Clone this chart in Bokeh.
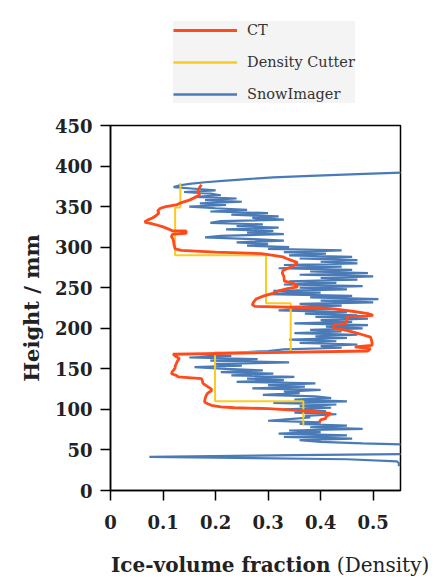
from bokeh.plotting import figure
from bokeh.models import Range1d, FixedTicker, Legend, LegendItem, Div
from bokeh.layouts import column
from bokeh.embed import file_html
from bokeh.resources import INLINE

# ---------------- data ----------------
ct_height = [377, 372, 368, 365, 362, 358, 355, 352, 350, 348, 345, 342, 339, 336, 334,
             331, 329, 327, 325, 322, 320, 320, 317, 316, 313, 310, 307, 303, 298, 296,
             294, 292, 290, 288, 286, 284, 281, 278, 276, 274, 271, 268, 264, 258, 256,
             254, 251, 249, 246, 243, 240, 236, 232, 229, 227, 225, 224, 221, 218, 216,
             214, 210, 206, 204, 200, 198, 195, 192, 189, 185, 181, 179, 177, 175, 172,
             170, 168, 165, 163, 160, 156, 153, 151, 147, 144, 142, 140, 138, 135, 132,
             128, 125, 123, 120, 117, 113, 109, 107, 105, 103, 102, 101, 99, 98, 97,
             95, 93, 91, 89, 87, 84]
ct_frac = [0.173, 0.168, 0.166, 0.170, 0.163, 0.150, 0.135, 0.125, 0.105, 0.095, 0.090, 0.092, 0.087, 0.080, 0.072,
           0.065, 0.078, 0.090, 0.100, 0.112, 0.118, 0.144, 0.144, 0.118, 0.116, 0.119, 0.120, 0.121, 0.123, 0.135,
           0.200, 0.287, 0.310, 0.328, 0.335, 0.343, 0.356, 0.350, 0.347, 0.337, 0.328, 0.327, 0.330, 0.331, 0.345,
           0.353, 0.356, 0.337, 0.320, 0.309, 0.292, 0.277, 0.272, 0.270, 0.275, 0.400, 0.425, 0.460, 0.490, 0.500,
           0.451, 0.450, 0.448, 0.425, 0.425, 0.445, 0.464, 0.480, 0.495, 0.497, 0.498, 0.498, 0.465, 0.495, 0.490,
           0.300, 0.119, 0.125, 0.131, 0.128, 0.125, 0.123, 0.123, 0.118, 0.116, 0.125, 0.129, 0.173, 0.175, 0.176,
           0.185, 0.192, 0.192, 0.185, 0.182, 0.180, 0.179, 0.185, 0.192, 0.210, 0.236, 0.300, 0.347, 0.370, 0.394,
           0.419, 0.415, 0.410, 0.410, 0.400, 0.397]

dc_top = [379, 349, 290, 231, 170.5, 110]
dc_bottom = [349, 290, 231, 170.5, 110, 80]
dc_frac = [0.133, 0.123, 0.296, 0.343, 0.199, 0.367]

snow_height = [393, 390, 388, 386, 384, 382, 380, 378, 376, 374, 372, 370, 368, 366, 364,
               362, 360, 358, 356, 354, 352, 350, 348, 346, 344, 342, 340, 338, 336, 334,
               332, 330, 328, 326, 324, 322, 320, 318, 316, 314, 312, 310, 308, 306, 304,
               302, 300, 298, 296, 294, 292, 290, 288, 286, 284, 282, 280, 278, 276, 274,
               272, 270, 268, 266, 264, 262, 260, 258, 256, 254, 252, 250, 248, 246, 244,
               242, 240, 238, 236, 234, 232, 230, 228, 226, 224, 222, 220, 218, 216, 214,
               212, 210, 208, 206, 204, 202, 200, 198, 196, 194, 192, 190, 188, 186, 184,
               182, 180, 178, 176, 174, 172, 170, 168, 166, 164, 162, 160, 158, 156, 154,
               152, 150, 148, 146, 144, 142, 140, 138, 136, 134, 132, 130, 128, 126, 124,
               122, 120, 118, 116, 114, 112, 110, 108, 106, 104, 102, 100, 98, 96, 94,
               92, 90, 88, 86, 84, 82, 80, 78, 76, 74, 72, 70, 68, 66, 64,
               62, 60, 58, 56, 52, 48, 45, 43.5, 41.5, 40.5, 38.5, 36, 33, 30]
snow_frac = [0.60, 0.47, 0.38, 0.31, 0.26, 0.22, 0.18, 0.15, 0.13, 0.12, 0.16, 0.20, 0.14, 0.19, 0.21,
             0.16, 0.24, 0.18, 0.25, 0.17, 0.22, 0.15, 0.20, 0.26, 0.19, 0.30, 0.23, 0.32, 0.27, 0.33,
             0.21, 0.19, 0.29, 0.24, 0.32, 0.22, 0.31, 0.26, 0.33, 0.21, 0.18, 0.27, 0.33, 0.24, 0.30,
             0.26, 0.34, 0.30, 0.44, 0.33, 0.41, 0.34, 0.46, 0.36, 0.47, 0.40, 0.47, 0.33, 0.44, 0.32,
             0.46, 0.38, 0.49, 0.36, 0.50, 0.40, 0.47, 0.34, 0.43, 0.33, 0.48, 0.36, 0.45, 0.31, 0.40,
             0.30, 0.46, 0.38, 0.51, 0.40, 0.50, 0.36, 0.44, 0.33, 0.42, 0.32, 0.45, 0.37, 0.47, 0.39,
             0.49, 0.40, 0.46, 0.35, 0.49, 0.41, 0.48, 0.38, 0.44, 0.35, 0.47, 0.39, 0.45, 0.34, 0.43,
             0.36, 0.47, 0.40, 0.44, 0.33, 0.30, 0.24, 0.17, 0.23, 0.15, 0.28, 0.19, 0.34, 0.20, 0.25,
             0.16, 0.22, 0.29, 0.21, 0.31, 0.23, 0.35, 0.26, 0.33, 0.24, 0.39, 0.30, 0.37, 0.27, 0.40,
             0.33, 0.36, 0.29, 0.39, 0.42, 0.35, 0.45, 0.31, 0.43, 0.36, 0.42, 0.33, 0.41, 0.35, 0.43,
             0.37, 0.38, 0.34, 0.30, 0.40, 0.36, 0.45, 0.38, 0.48, 0.34, 0.40, 0.32, 0.45, 0.33, 0.46,
             0.36, 0.40, 0.48, 0.60, 0.62, 0.60, 0.58, 0.35, 0.074, 0.20, 0.45, 0.545, 0.55, 0.548]

x_ticks = [0, 0.1, 0.2, 0.3, 0.4, 0.5]
x_tick_labels = ["0", "0.1", "0.2", "0.3", "0.4", "0.5"]
y_ticks = [0, 50, 100, 150, 200, 250, 300, 350, 400, 450]

series_names = ["CT", "Density Cutter", "SnowImager"]
series_colors = ["#ff4a1c", "#f9cc23", "#4a7bb7"]
series_widths = [2.8, 2.0, 2.2]
x_label_bold = "Ice-volume fraction"
x_label_normal = "(Density)"
y_label = "Height / mm"

SERIF = "DejaVu Serif"
W = 444

# ---------------- legend strip (top) ----------------
leg_fig = figure(width=W, height=116, output_backend="svg", toolbar_location=None,
                 x_axis_type=None, y_axis_type=None, x_range=Range1d(0, 1), y_range=Range1d(0, 1),
                 min_border_left=0, min_border_right=0, min_border_top=0, min_border_bottom=0)
leg_fig.outline_line_color = None
leg_fig.background_fill_color = "white"
leg_fig.border_fill_color = "white"
# one hidden (NaN) point each: these renderers only carry the legend styling
leg_renderers = [leg_fig.line([float("nan")], [float("nan")], line_color=c, line_width=w + 0.3)
                 for c, w in zip(series_colors, series_widths)]
legend = Legend(items=[LegendItem(label=n, renderers=[r]) for n, r in zip(series_names, leg_renderers)],
                location=(63, 13))
legend.background_fill_color = "#f4f4f4"
legend.background_fill_alpha = 1
legend.border_line_color = None
legend.label_text_font = SERIF
legend.label_text_font_size = "14.5px"
legend.label_text_color = "#333333"
legend.glyph_width = 64
legend.glyph_height = 18
legend.label_height = 18
legend.spacing = 14
legend.padding = 14
legend.margin = 0
legend.label_standoff = 10
leg_fig.add_layout(legend, "center")

# ---------------- main plot ----------------
p = figure(width=W, height=426, output_backend="svg", toolbar_location=None,
           x_range=Range1d(0, 0.552), y_range=Range1d(0, 450),
           min_border_left=110, min_border_right=44, min_border_top=9, min_border_bottom=52)
p.xgrid.visible = False
p.ygrid.visible = False
p.outline_line_color = "black"
p.outline_line_width = 1.5
p.background_fill_color = "white"
p.border_fill_color = "white"

# density cutter step path built from layers
dc_x, dc_y = [], []
for t, b, v in zip(dc_top, dc_bottom, dc_frac):
    dc_x += [v, v]
    dc_y += [t, b]

p.line(snow_frac, snow_height, line_color=series_colors[2], line_width=series_widths[2])
p.line(dc_x, dc_y, line_color=series_colors[1], line_width=series_widths[1])
p.line(ct_frac, ct_height, line_color=series_colors[0], line_width=series_widths[0])

for ax in (p.xaxis[0], p.yaxis[0]):
    ax.major_tick_out = 10
    ax.major_tick_in = 0
    ax.minor_tick_out = 0
    ax.minor_tick_in = 0
    ax.axis_line_width = 1.5
    ax.major_tick_line_width = 1.5
    ax.axis_line_color = "black"
    ax.major_tick_line_color = "black"
    ax.major_label_text_font = SERIF
    ax.major_label_text_font_style = "bold"
    ax.major_label_text_font_size = "18px"
    ax.major_label_text_color = "#222222"

p.xaxis.ticker = FixedTicker(ticks=x_ticks)
p.xaxis.major_label_overrides = {t: l for t, l in zip(x_ticks, x_tick_labels)}
p.xaxis.major_label_standoff = 14
p.yaxis.ticker = FixedTicker(ticks=y_ticks)
p.yaxis.major_label_standoff = 8

p.yaxis.axis_label = y_label
p.yaxis.axis_label_text_font = SERIF
p.yaxis.axis_label_text_font_style = "bold"
p.yaxis.axis_label_text_font_size = "21px"
p.yaxis.axis_label_text_color = "#222222"
p.yaxis.axis_label_standoff = 8

# ---------------- x label (bold part + normal part on one line) ----------------
xlab = Div(text=('<div style="padding-left:106px; padding-top:8px; line-height:20px; '
                 'font-family:\'DejaVu Serif\'; font-size:20px; color:#222222; white-space:nowrap;">'
                 '<b>%s</b> %s</div>') % (x_label_bold, x_label_normal),
           width=W, height=36)

layout = column(leg_fig, p, xlab, spacing=0)
open("out.html", "w").write(file_html(layout, INLINE))
